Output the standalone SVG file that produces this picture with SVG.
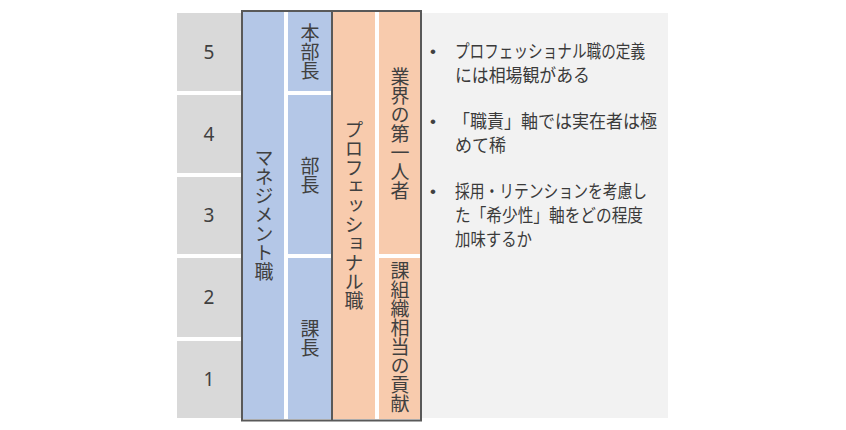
<svg xmlns="http://www.w3.org/2000/svg" width="846" height="430" viewBox="0 0 846 430">
<style>
.bg{fill:#ffffff}
.lvl{fill:#d9d9d9}
.mg{fill:#b4c7e7}
.pr{fill:#f8cbad}
.panel{fill:#f2f2f2}
.num{font-family:"Noto Sans","Liberation Sans",sans-serif;font-size:19px;fill:#404040;text-anchor:middle}
.vt{font-family:"Noto Sans CJK JP","Noto Sans",sans-serif;font-size:19px;fill:#404040;writing-mode:vertical-rl;text-anchor:middle}
.tx{font-family:"Noto Sans CJK JP","Noto Sans",sans-serif;font-size:18px;fill:#3a3a3a}
.bul{font-family:"Liberation Sans",sans-serif;font-size:17px;fill:#404040}
.frame{stroke:#595959;stroke-width:2;fill:none}
</style>
<rect class="bg" x="0" y="0" width="846" height="430"/>
<g id="levels">
  <g id="level5"><rect class="lvl" x="177" y="13" width="65" height="78"/><text class="num" x="209" y="59">5</text></g>
  <g id="level4"><rect class="lvl" x="177" y="95" width="65" height="78"/><text class="num" x="209" y="141">4</text></g>
  <g id="level3"><rect class="lvl" x="177" y="177" width="65" height="77"/><text class="num" x="209" y="222">3</text></g>
  <g id="level2"><rect class="lvl" x="177" y="258" width="65" height="79"/><text class="num" x="209" y="304">2</text></g>
  <g id="level1"><rect class="lvl" x="177" y="341" width="65" height="77"/><text class="num" x="209" y="386">1</text></g>
</g>
<g id="management">
  <rect class="mg" x="243" y="12" width="41" height="407"/>
  <text class="vt" x="264" y="215">マネジメント職</text>
</g>
<g id="honbucho">
  <rect class="mg" x="288" y="12" width="43" height="79"/>
  <text class="vt" x="310" y="52">本部長</text>
</g>
<g id="bucho">
  <rect class="mg" x="288" y="95" width="43" height="159"/>
  <text class="vt" x="310" y="175">部長</text>
</g>
<g id="kacho">
  <rect class="mg" x="288" y="258" width="43" height="161"/>
  <text class="vt" x="310" y="338">課長</text>
</g>
<g id="professional">
  <rect class="pr" x="333" y="12" width="42" height="407"/>
  <text class="vt" x="354" y="215">プロフェッショナル職</text>
</g>
<g id="top-expert">
  <rect class="pr" x="379" y="12" width="41" height="242"/>
  <text class="vt" x="400" y="134">業界の第一人者</text>
</g>
<g id="section-contrib">
  <rect class="pr" x="379" y="258" width="41" height="161"/>
  <text class="vt" x="400" y="337">課組織相当の貢献</text>
</g>
<g id="frame">
  <path class="frame" d="M241 11 H422 M241 420.5 H422 M242 11 V421.5 M332 11 V421.5 M421 11 V421.5"/>
</g>
<g id="notes">
  <rect class="panel" x="422" y="13" width="246" height="405"/>
  <text class="bul" x="430" y="57">•</text>
  <text class="tx" x="455" y="58" textLength="190" lengthAdjust="spacingAndGlyphs">プロフェッショナル職の定義</text>
  <text class="tx" x="455" y="82" textLength="135" lengthAdjust="spacingAndGlyphs">には相場観がある</text>
  <text class="bul" x="430" y="127">•</text>
  <text class="tx" x="453" y="128" textLength="204" lengthAdjust="spacingAndGlyphs">「職責」軸では実在者は極</text>
  <text class="tx" x="455" y="152" textLength="51" lengthAdjust="spacingAndGlyphs">めて稀</text>
  <text class="bul" x="430" y="197">•</text>
  <text class="tx" x="455" y="198" textLength="192" lengthAdjust="spacingAndGlyphs">採用・リテンションを考慮し</text>
  <text class="tx" x="455" y="222" textLength="188" lengthAdjust="spacingAndGlyphs">た「希少性」軸をどの程度</text>
  <text class="tx" x="455" y="246" textLength="77" lengthAdjust="spacingAndGlyphs">加味するか</text>
</g>
</svg>
